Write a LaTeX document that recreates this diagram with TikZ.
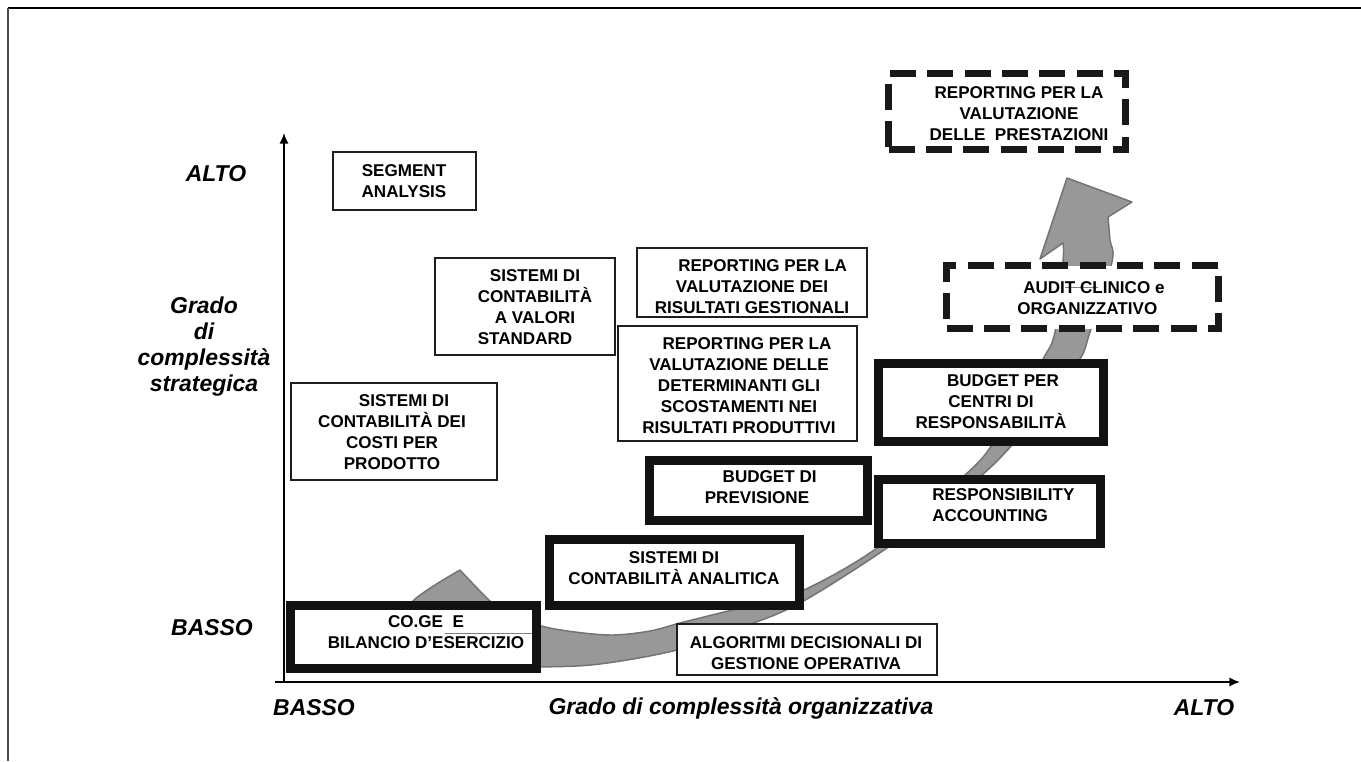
\documentclass[tikz,border=0pt]{standalone}
\usepackage{fontspec}
\setmainfont{Liberation Sans}
\usetikzlibrary{fit,arrows.meta}
\definecolor{bandfill}{RGB}{152,152,152}
\definecolor{bandline}{RGB}{115,115,115}
\definecolor{boxline}{RGB}{30,30,30}
\tikzset{
 thinbox/.style={draw=boxline, line width=1.1pt, fill=white, inner sep=0pt},
 thickbox/.style={draw=black!93, line width=6.75pt, fill=white, inner sep=0pt},
 dashbox/.style={draw=black!90, line width=5.25pt, fill=white, inner sep=0pt, dash pattern=on 19.5pt off 8.5pt},
 boxtext/.style={font=\bfseries\fontsize{12.8}{15.8}\selectfont, align=center, inner sep=0pt},
 axislabel/.style={font=\bfseries\itshape\fontsize{17.2}{19.5}\selectfont, align=center, inner sep=0pt},
 band/.style={fill=bandfill, draw=bandline, line width=1.1pt, line join=round},
 axisline/.style={line width=1.3pt, -{Latex[length=8pt,width=7pt]}},
 artifact/.style={draw=gray, line width=0.6pt},
}
\begin{document}
\begin{tikzpicture}[x=0.75pt,y=-0.75pt]
\useasboundingbox (0,0) rectangle (1361,761);
% frame
\draw[line width=1.5pt] (8,8) -- (1361,8);
\draw[line width=1.1pt, black!70] (8,8) -- (8,761);
% axes
\coordinate (O) at (284,683);
\coordinate (ytip) at (284,133);
\coordinate (xo) at (275,682);
\coordinate (xtip) at (1240,682);
\draw[axisline] (O) -- (ytip);
\draw[axisline] (xo) -- (xtip);
% curved band arrow
\filldraw[band] plot[smooth, tension=0.55] coordinates {(460,570) (413,601) (405,630) (430,656) (480,667) (541,667) (600,664) (677,650) (740,628) (800,603) (887,548) (940,507) (982,475) (1012,445) (1048,400) (1080,359) (1090,332) (1112,262) (1110,240) (1108,217)}
 -- (1132,202) -- (1067,178) -- (1040,259)
 -- plot[smooth, tension=0.55] coordinates {(1063,243) (1063,262) (1055,332) (1043,359) (1018,402) (992,445) (965,475) (877,548) (804,590) (760,603) (720,613) (680,623) (650,631) (613,635) (575,632) (541,626) (510,615) (490,601) (460,570)} -- cycle;
% thin boxes
\node[thinbox, fit={(333,152)(476,210)}] (seg) {};
\node[boxtext] (segt) at (404,181) {SEGMENT\\ANALYSIS};
\node[thinbox, fit={(435,258)(615,355)}] (std) {};
\node[boxtext] (stdt) at (535,307) {SISTEMI DI\\CONTABILITÀ\\A VALORI\\STANDARD\hspace*{15pt}};
\node[thinbox, fit={(291,383)(497,480)}] (costi) {};
\node[boxtext] (costit) at (392,432) {\hspace*{18pt}SISTEMI DI\\CONTABILITÀ DEI\\COSTI PER\\PRODOTTO};
\node[thinbox, fit={(637,248)(867,317)}] (rep1) {};
\node[boxtext] (rep1t) at (752,287) {\hspace*{16pt}REPORTING PER LA\\VALUTAZIONE DEI\\RISULTATI GESTIONALI};
\node[thinbox, fit={(618,326)(857,441)}] (rep2) {};
\node[boxtext] (rep2t) at (739,385.5) {\hspace*{12pt}REPORTING PER LA\\VALUTAZIONE DELLE\\DETERMINANTI GLI\\SCOSTAMENTI NEI\\RISULTATI PRODUTTIVI};
\node[thinbox, fit={(677,624)(937,675)}] (algo) {};
\node[boxtext] (algot) at (806,653) {ALGORITMI DECISIONALI DI\\GESTIONE OPERATIVA};
% thick boxes
\node[thickbox, fit={(649.5,460.5)(867.5,520.5)}] (bprev) {};
\node[boxtext] (bprevt) at (757,487) {\hspace*{19pt}BUDGET DI\\PREVISIONE};
\node[thickbox, fit={(549.5,539.5)(799.5,605.5)}] (sistan) {};
\node[boxtext] (sistant) at (674,568) {SISTEMI DI\\CONTABILITÀ ANALITICA};
\node[thickbox, fit={(290.5,605.5)(536.5,668.5)}] (coge) {};
\draw[artifact] (445,633) -- (532,633);
\node[boxtext] (coget) at (426,632) {CO.GE\ \ E\\BILANCIO D’ESERCIZIO};
\node[thickbox, fit={(878.5,363.5)(1103.5,441)}] (bcen) {};
\node[boxtext] (bcent) at (991,402) {\hspace*{18pt}BUDGET PER\\CENTRI DI\\RESPONSABILITÀ};
\node[thickbox, fit={(878.5,479.5)(1100.5,543.5)}] (racc) {};
\node[boxtext, align=left, anchor=west] (racct) at (932,505) {RESPONSIBILITY\\ACCOUNTING};
% dashed boxes
\node[dashbox, fit={(888.5,73.5)(1125.5,149.5)}] (prest) {};
\node[boxtext] (prestt) at (1019,113.5) {REPORTING PER LA\\VALUTAZIONE\\DELLE\ \ PRESTAZIONI};
\node[dashbox, fit={(946.5,265.5)(1218.5,328.5)}] (audit) {};
\draw[artifact] (1065,287) -- (1098,287);
\node[boxtext, align=left, anchor=west] (auditt) at (1017,298) {\hspace*{4.5pt}AUDIT CLINICO e\\ORGANIZZATIVO};
% axis labels
\node[axislabel] (yhi) at (216,174) {ALTO};
\node[axislabel] (ytitle) at (204,347) {Grado\\di\\complessità\\strategica};
\node[axislabel] (ylo) at (212,628) {BASSO};
\node[axislabel] (xlo) at (314,708) {BASSO};
\node[axislabel] (xtitle) at (741,708) {Grado di complessità organizzativa};
\node[axislabel] (xhi) at (1204,708) {ALTO};
\end{tikzpicture}
\end{document}
